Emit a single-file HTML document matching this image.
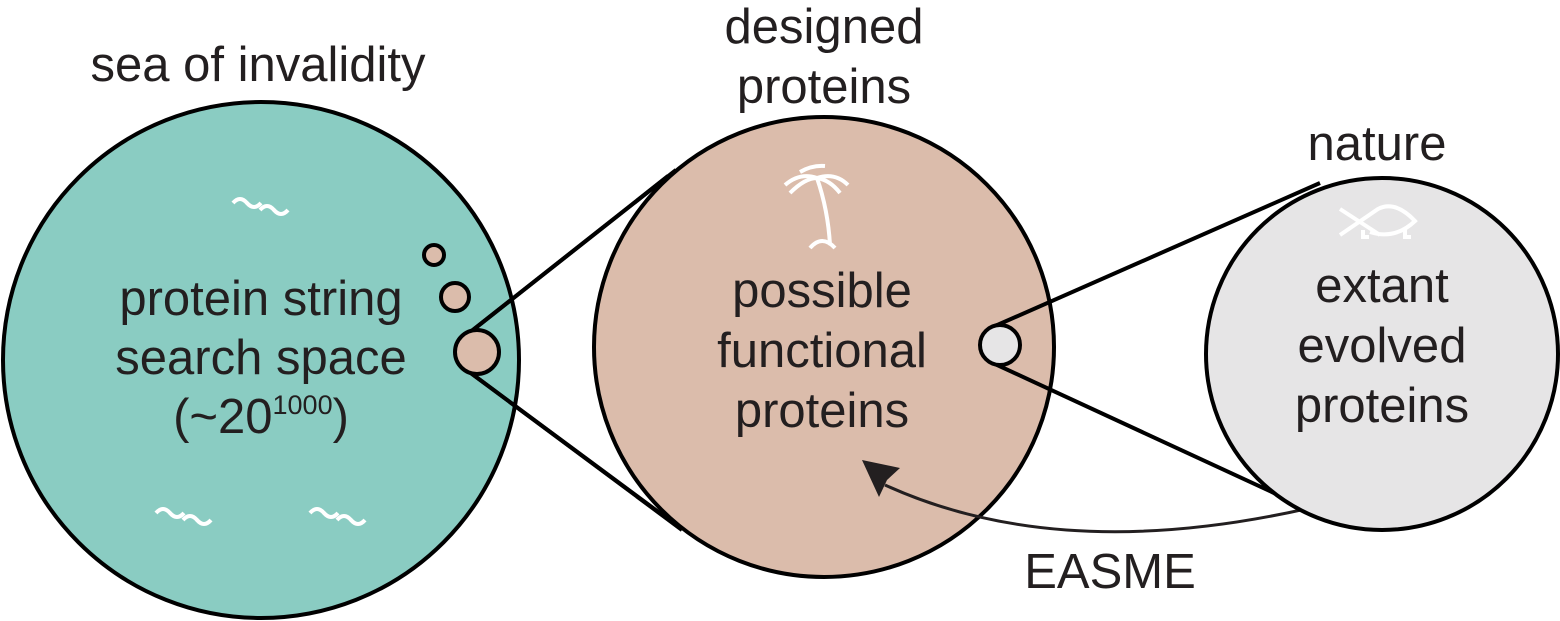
<!DOCTYPE html>
<html><head><meta charset="utf-8"><style>
body{margin:0;background:#fff}
svg{display:block}
text{font-family:"Liberation Sans",Arial,sans-serif;fill:#231f20;font-size:49px;text-anchor:middle}
</style></head><body>
<svg width="1560" height="621" viewBox="0 0 1560 621" xmlns="http://www.w3.org/2000/svg">
<circle cx="261" cy="360" r="258" fill="#8accc2" stroke="#000" stroke-width="4"/>
<circle cx="434" cy="255" r="10" fill="#dbbcab" stroke="#000" stroke-width="4"/>
<circle cx="455" cy="297" r="14" fill="#dbbcab" stroke="#000" stroke-width="4"/>
<line x1="464" y1="337" x2="676" y2="170" stroke="#000" stroke-width="4"/>
<line x1="464" y1="368" x2="682" y2="530" stroke="#000" stroke-width="4"/>
<circle cx="824" cy="347" r="230" fill="#dbbcab" stroke="#000" stroke-width="4"/>
<line x1="464" y1="337" x2="668" y2="176" stroke="#000" stroke-width="4"/>
<line x1="464" y1="368" x2="672" y2="522" stroke="#000" stroke-width="4"/>
<circle cx="477" cy="352" r="22" fill="#dbbcab" stroke="#000" stroke-width="4"/>
<line x1="995" y1="326" x2="1320" y2="183" stroke="#000" stroke-width="4"/>
<line x1="995" y1="364" x2="1300" y2="505" stroke="#000" stroke-width="4"/>
<path d="M1310 508 Q1060 565 885 485" fill="none" stroke="#231f20" stroke-width="3"/>
<circle cx="1382" cy="354" r="176" fill="#e6e5e6" stroke="#000" stroke-width="4"/>
<circle cx="1000" cy="345" r="20" fill="#e6e5e6" stroke="#000" stroke-width="4"/>
<path d="M862 460 L900 468 L887 480 L879 497 Z" fill="#231f20"/>
<g fill="none" stroke="#fff" stroke-width="4">
<path d="M233 203 q7 -8 14 0 t14 0"/><path d="M260 210 q7 -8 14 0 t14 0"/>
<path d="M156 513 q7 -8 14 0 t14 0"/><path d="M183 520 q7 -8 14 0 t14 0"/>
<path d="M310 513 q7 -8 14 0 t14 0"/><path d="M337 520 q7 -8 14 0 t14 0"/>
<path d="M817 178 Q828 210 830 245"/><path d="M810 248 Q822 234 835 248"/>
<path d="M785 185 Q800 172 817 178 Q835 172 848 185"/><path d="M790 193 Q805 178 817 178 Q830 180 840 193"/>
<path d="M800 172 Q812 165 825 166"/>
<path d="M1340 209 L1380 235 M1340 235 L1378 209 Q1395 200 1415 221 Q1395 240 1370 232"/>
<path d="M1363 230 v7 h6 M1405 228 v9 h6"/>
</g>
<text x="258" y="81">sea of invalidity</text>
<text x="824" y="43">designed</text>
<text x="824" y="103">proteins</text>
<text x="1377" y="160">nature</text>
<text x="261" y="315">protein string</text>
<text x="261" y="374">search space</text>
<text x="261" y="433">(~20<tspan font-size="27" dy="-19">1000</tspan><tspan dy="19">)</tspan></text>
<text x="822" y="307">possible</text>
<text x="822" y="367">functional</text>
<text x="822" y="427">proteins</text>
<text x="1382" y="302">extant</text>
<text x="1382" y="362">evolved</text>
<text x="1382" y="422">proteins</text>
<text x="1110" y="588">EASME</text>
</svg>
</body></html>
